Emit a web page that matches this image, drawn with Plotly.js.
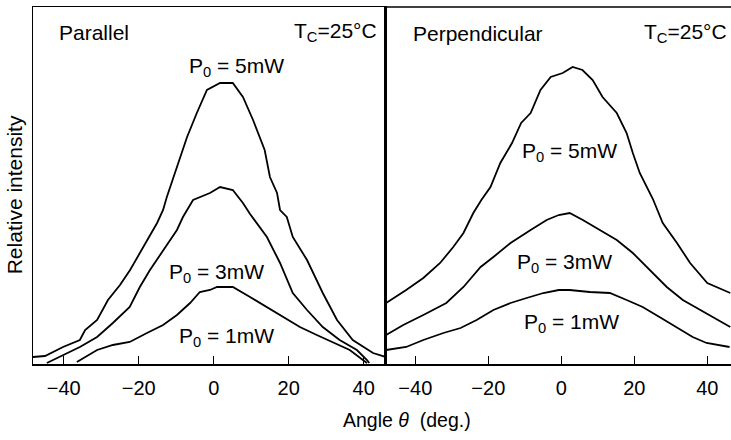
<!DOCTYPE html>
<html>
<head>
<meta charset="utf-8">
<script src="https://cdn.plot.ly/plotly-3.0.1.min.js"></script>
<style>html,body{margin:0;padding:0;background:#fff;}#chart{width:731px;height:440px;}</style>
</head>
<body>
<div id="chart"></div>
<script>
// Parallel panel (angle in deg., relative intensity in arbitrary units)
const parAngle5 = [-48.2,-45.0,-40.2,-35.7,-34.3,-31.1,-28.2,-25.0,-22.3,-19.7,-17.5,-15.1,-13.5,-12.5,-9.8,-7.1,-4.5,-1.8,1.7,5.1,7.8,10.5,13.6,15.0,16.9,17.7,19.5,21.1,24.9,29.1,32.9,37.1,42.5,45.9];
const parInt5   = [7,8,17,24,34,44,64,79,94,111,124,141,154,167,197,227,251,274,281,281,267,244,214,187,171,154,147,127,104,71,44,24,11,7];
const parAngle3 = [-44.5,-40.2,-35.7,-31.1,-26.9,-22.4,-19.7,-17.0,-13.5,-9.8,-8.2,-5.5,-1.0,1.7,5.1,7.8,9.7,14.2,17.7,21.1,24.9,29.1,33.6,38.2,40.9,41.5];
const parInt3   = [1,9,17,27,41,57,77,94,114,134,147,164,171,177,174,161,150,127,101,71,54,37,24,14,4,1];
const parAngle1 = [-36.5,-31.1,-26.9,-22.4,-17.8,-13.5,-9.8,-6.3,-3.7,-1.0,0.9,5.1,9.7,14.2,18.5,23.0,27.5,31.8,36.3,39.8,40.9];
const parInt1   = [2,14,19,22,31,39,49,61,72,74,77,77,67,57,47,37,29,22,14,4,1];

// Perpendicular panel
const perAngle5 = [-48.0,-42.5,-37.8,-33.2,-29.6,-26.8,-24.1,-21.9,-19.4,-16.7,-13.5,-11.0,-8.4,-5.7,-2.9,0.4,3.1,5.8,8.6,11.3,15.2,17.9,19.6,21.5,25.1,27.8,31.7,35.3,40.0,46.3];
const perInt5   = [61,74,86,101,117,131,151,164,177,201,221,241,251,274,287,291,297,294,284,267,251,231,211,191,165,141,121,101,81,71];
const perAngle3 = [-48.0,-43.3,-37.8,-31.5,-26.8,-22.1,-18.6,-13.9,-8.4,-4.0,-0.7,2.3,5.9,10.5,15.2,19.6,24.2,28.9,33.3,38.0,42.7,46.3];
const perInt3   = [29,39,49,61,77,97,107,121,134,144,149,151,144,134,124,111,94,77,64,54,44,37];
const perAngle1 = [-48.0,-42.5,-37.8,-32.3,-27.6,-23.2,-18.6,-13.9,-9.5,-4.9,-0.7,2.3,7.8,13.3,17.9,22.3,26.9,31.6,36.0,39.8,46.1];
const perInt1   = [14,17,24,31,36,44,54,61,66,71,74,74,72,71,64,57,47,37,27,21,17];

const tickVals = [-40,-20,0,20,40];
const tickText = ['\u221240','\u221220','0','20','40'];

const FONT = 'Liberation Sans, Arial, Helvetica, sans-serif';
const line = {color:'#000', width:1.8};

function tr(x, y, xa, ya){
  return {x:x, y:y, xaxis:xa, yaxis:ya, type:'scatter', mode:'lines', line:line, hoverinfo:'skip', showlegend:false};
}

const data = [
  tr(parAngle5, parInt5, 'x', 'y'),
  tr(parAngle3, parInt3, 'x', 'y'),
  tr(parAngle1, parInt1, 'x', 'y'),
  tr(perAngle5, perInt5, 'x2', 'y2'),
  tr(perAngle3, perInt3, 'x2', 'y2'),
  tr(perAngle1, perInt1, 'x2', 'y2')
];

const xcommon = {
  tickmode:'array', tickvals:tickVals, ticktext:tickText,
  ticks:'inside', ticklen:8, tickwidth:1.2, tickcolor:'#000',
  showline:true, linecolor:'#000', linewidth:1.5, mirror:true,
  showgrid:false, zeroline:false, ticklabelstandoff:5,
  tickfont:{family:FONT, size:20, color:'#000'}, fixedrange:true
};
const ycommon = {
  range:[0,357], showticklabels:false, ticks:'', showgrid:false, zeroline:false,
  showline:true, linecolor:'#000', linewidth:1.5, fixedrange:true
};

const ann = (text, x, y, xref, yref, xanchor, size) => ({
  text:text, x:x, y:y, xref:xref, yref:yref, xanchor:xanchor, yanchor:'middle',
  showarrow:false, font:{family:FONT, size:size, color:'#000'}
});

const layout = {
  width:731, height:440,
  margin:{l:33, r:0, t:7, b:76},
  paper_bgcolor:'#fff', plot_bgcolor:'#fff',
  xaxis: Object.assign({}, xcommon, {domain:[0,0.5043], range:[-48.2,45.7], anchor:'y'}),
  yaxis: Object.assign({}, ycommon, {anchor:'x', mirror:true}),
  xaxis2: Object.assign({}, xcommon, {domain:[0.5043,1], range:[-48.3,46.5], anchor:'y2', mirror:false}),
  yaxis2: Object.assign({}, ycommon, {anchor:'x2', mirror:false}),
  shapes:[
    {type:'line', xref:'x2 domain', yref:'y2 domain', x0:0, x1:1, y0:1, y1:1, line:{color:'#000', width:1.5}}
  ],
  annotations:[
    ann('Parallel', -41.8, 332, 'x', 'y', 'left', 21),
    ann('T<sub>C</sub>=25°C', 44.2, 332, 'x', 'y', 'right', 21),
    ann('Perpendicular', -41.2, 331, 'x2', 'y2', 'left', 21),
    ann('T<sub>C</sub>=25°C', 45.9, 331, 'x2', 'y2', 'right', 21),
    ann('P<sub>0</sub> = 5mW', 6.2, 297, 'x', 'y', 'center', 21),
    ann('P<sub>0</sub> = 3mW', 0.85, 91, 'x', 'y', 'center', 21),
    ann('P<sub>0</sub> = 1mW', 3.5, 27, 'x', 'y', 'center', 21),
    ann('P<sub>0</sub> = 5mW', 2.3, 212, 'x2', 'y2', 'center', 21),
    ann('P<sub>0</sub> = 3mW', 0.9, 101, 'x2', 'y2', 'center', 21),
    ann('P<sub>0</sub> = 1mW', 2.8, 41, 'x2', 'y2', 'center', 21),
    ann('Angle <i>θ</i>  (deg.)', 0.536, -0.157, 'paper', 'paper', 'center', 19.5),
    Object.assign(ann('Relative intensity', -0.027, 0.473, 'paper', 'paper', 'center', 21), {textangle:-90})
  ]
};

Plotly.newPlot('chart', data, layout, {displayModeBar:false, staticPlot:true});
</script>
</body>
</html>
